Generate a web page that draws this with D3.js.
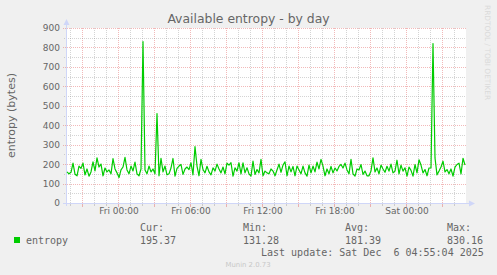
<!DOCTYPE html>
<html>
<head>
<meta charset="utf-8">
<script src="https://cdn.jsdelivr.net/npm/d3@7"></script>
<style>
  body { margin: 0; background: #f0f0f0; }
  svg { display: block; }
  text { font-family: "DejaVu Sans", sans-serif; fill: #666; }
  .mono { font-family: "DejaVu Sans Mono", monospace; white-space: pre; }
</style>
</head>
<body>
<div id="wrapper"></div>
<script>
// chart data
const title = "Available entropy - by day"
const yLabel = "entropy (bytes)"
const seriesName = "entropy"
const startTime = new Date(2025, 11, 4, 19, 45)
const stepMinutes = 10
const entropy = [
  160, 150, 158, 205, 148, 140, 190, 178, 205, 145,
  175, 138, 160, 212, 165, 232, 185, 200, 140, 180,
  160, 170, 150, 228, 175, 155, 131, 170, 185, 235,
  170, 150, 190, 165, 210, 150, 140, 175, 830, 170,
  150, 190, 160, 175, 150, 460, 140, 230, 160, 190,
  145, 150, 180, 229, 138, 178, 190, 198, 147, 175,
  185, 172, 207, 145, 290, 190, 140, 224, 172, 155,
  189, 160, 145, 181, 164, 200, 175, 155, 185, 150,
  205, 195, 207, 138, 181, 164, 207, 150, 207, 155,
  181, 150, 138, 215, 147, 172, 155, 224, 140, 164,
  155, 150, 175, 164, 140, 170, 200, 158, 195, 212,
  140, 190, 160, 188, 140, 190, 170, 150, 190, 155,
  138, 195, 155, 190, 160, 210, 175, 224, 190, 140,
  175, 150, 188, 155, 180, 165, 188, 198, 180, 205,
  170, 150, 224, 150, 138, 175, 170, 198, 147, 164,
  140, 140, 165, 232, 160, 180, 150, 195, 175, 158,
  189, 164, 200, 155, 164, 220, 150, 195, 164, 181,
  138, 185, 168, 138, 198, 155, 222, 195, 155, 172,
  140, 180, 180, 820, 232, 145, 164, 185, 215, 160,
  172, 150, 175, 138, 185, 198, 205, 150, 230, 195.37
]
const yTicks = [0, 100, 200, 300, 400, 500, 600, 700, 800, 900]
const yMinorTicks = [50, 150, 250, 350, 450, 550, 650, 750, 850]
const legendHeaders = ["Cur:", "Min:", "Avg:", "Max:"]
const legendValues = ["195.37", "131.28", "181.39", "830.16"]
const lastUpdate = "Last update: Sat Dec  6 04:55:04 2025"
const footer = "Munin 2.0.73"
const watermark = "RRDTOOL / TOBI OETIKER"

function drawChart() {
  const dimensions = {
    width: 497,
    height: 275,
    left: 66,
    right: 466,
    top: 28,
    bottom: 203,
  }

  const svg = d3.select("#wrapper")
    .append("svg")
    .attr("width", dimensions.width)
    .attr("height", dimensions.height)

  svg.append("rect")
    .attr("width", dimensions.width)
    .attr("height", dimensions.height)
    .attr("fill", "#f0f0f0")

  const xScale = d3.scaleTime()
    .domain([new Date(2025, 11, 4, 19, 40), new Date(2025, 11, 6, 5, 0)])
    .range([dimensions.left, dimensions.right])

  const yScale = d3.scaleLinear()
    .domain([0, 900])
    .range([dimensions.bottom, dimensions.top])

  const crisp = v => Math.round(v) + 0.5

  // canvas
  svg.append("rect")
    .attr("x", dimensions.left)
    .attr("y", dimensions.top)
    .attr("width", dimensions.right - dimensions.left)
    .attr("height", dimensions.bottom - dimensions.top)
    .attr("fill", "#ffffff")

  const grid = svg.append("g")
  const minorColor = "rgba(143,143,143,0.38)"
  const majorColor = "rgba(222,80,80,0.4)"

  const hours = d3.timeHour.range(xScale.domain()[0], xScale.domain()[1])
  hours.forEach(h => {
    const x = crisp(xScale(h))
    const major = h.getHours() % 3 === 0
    grid.append("line")
      .attr("x1", x).attr("x2", x)
      .attr("y1", dimensions.top).attr("y2", dimensions.bottom)
      .attr("stroke", major ? majorColor : minorColor)
      .attr("stroke-dasharray", "1,1")
    grid.append("line")
      .attr("x1", x).attr("x2", x)
      .attr("y1", dimensions.bottom + 1).attr("y2", dimensions.bottom + (major ? 4 : 3))
      .attr("stroke", major ? majorColor : minorColor)
  })

  yMinorTicks.forEach(v => {
    const y = crisp(yScale(v))
    grid.append("line")
      .attr("x1", dimensions.left - 2).attr("x2", dimensions.right)
      .attr("y1", y).attr("y2", y)
      .attr("stroke", minorColor)
      .attr("stroke-dasharray", "1,1")
  })
  yTicks.filter(v => v > 0).forEach(v => {
    const y = crisp(yScale(v))
    grid.append("line")
      .attr("x1", dimensions.left - 3).attr("x2", dimensions.right)
      .attr("y1", y).attr("y2", y)
      .attr("stroke", majorColor)
      .attr("stroke-dasharray", "1,1")
  })

  // y tick labels
  const yAxis = svg.append("g")
    .attr("transform", `translate(${dimensions.left - 6},0)`)
    .call(d3.axisLeft(yScale).tickValues(yTicks).tickSize(0).tickPadding(0))
  yAxis.select(".domain").remove()
  yAxis.selectAll("text")
    .attr("fill", "#666")
    .style("font-family", "DejaVu Sans")
    .style("font-size", "9px")

  // x tick labels
  const xAxis = svg.append("g")
    .attr("transform", `translate(0,${dimensions.bottom + 4})`)
    .call(d3.axisBottom(xScale)
      .tickValues(hours.filter(h => h.getHours() % 6 === 0))
      .tickFormat(d3.timeFormat("%a %H:%M"))
      .tickSize(0)
      .tickPadding(0))
  xAxis.select(".domain").remove()
  xAxis.selectAll("text")
    .attr("dy", "0.71em")
    .attr("transform", "translate(0.5,1)")
    .attr("fill", "#666")
    .style("font-family", "DejaVu Sans")
    .style("font-size", "9px")

  // axes with arrows
  const axisColor = "#cfd6f8"
  svg.append("line")
    .attr("x1", dimensions.left + 0.5).attr("x2", dimensions.left + 0.5)
    .attr("y1", dimensions.bottom + 3).attr("y2", dimensions.top - 5)
    .attr("stroke", axisColor)
  svg.append("path")
    .attr("d", `M${dimensions.left - 2.5},${dimensions.top - 3} L${dimensions.left + 0.5},${dimensions.top - 9} L${dimensions.left + 3.5},${dimensions.top - 3} Z`)
    .attr("fill", axisColor)
  svg.append("line")
    .attr("x1", dimensions.left - 3).attr("x2", dimensions.right + 5)
    .attr("y1", dimensions.bottom + 0.5).attr("y2", dimensions.bottom + 0.5)
    .attr("stroke", axisColor)
  svg.append("path")
    .attr("d", `M${dimensions.right + 3},${dimensions.bottom - 2.5} L${dimensions.right + 9},${dimensions.bottom + 0.5} L${dimensions.right + 3},${dimensions.bottom + 3.5} Z`)
    .attr("fill", axisColor)

  // series line
  const stepMs = stepMinutes * 60 * 1000
  const lineGenerator = d3.line()
    .x((d, i) => xScale(new Date(startTime.getTime() + i * stepMs)))
    .y(d => yScale(d))

  svg.append("path")
    .attr("d", lineGenerator(entropy))
    .attr("fill", "none")
    .attr("stroke", "#00cc00")
    .attr("stroke-width", 1.2)
    .attr("stroke-linejoin", "round")

  // titles
  svg.append("text")
    .attr("x", 248.5)
    .attr("y", 23)
    .attr("text-anchor", "middle")
    .style("font-size", "12.4px")
    .text(title)

  svg.append("text")
    .attr("transform", `translate(14.5,${(dimensions.top + dimensions.bottom) / 2}) rotate(-90)`)
    .attr("text-anchor", "middle")
    .style("font-size", "11px")
    .text(yLabel)

  svg.append("text")
    .attr("transform", "translate(485,5) rotate(90)")
    .style("fill", "#dadada")
    .style("font-size", "7.4px")
    .text(watermark)

  // legend
  svg.append("rect")
    .attr("x", 14).attr("y", 237)
    .attr("width", 6).attr("height", 6)
    .attr("fill", "#00cc00")

  svg.append("text")
    .attr("class", "mono")
    .attr("x", 26).attr("y", 244)
    .style("font-size", "10px")
    .text(seriesName)

  const columnX = [140, 243, 345, 447]
  legendHeaders.forEach((h, i) => {
    svg.append("text")
      .attr("class", "mono")
      .attr("x", columnX[i]).attr("y", 231)
      .style("font-size", "10px")
      .text(h)
    svg.append("text")
      .attr("class", "mono")
      .attr("x", columnX[i]).attr("y", 244)
      .style("font-size", "10px")
      .text(legendValues[i])
  })

  svg.append("text")
    .attr("class", "mono")
    .attr("x", 261).attr("y", 255.5)
    .style("font-size", "10px")
    .text(lastUpdate)

  svg.append("text")
    .attr("x", 248)
    .attr("y", 266.5)
    .attr("text-anchor", "middle")
    .style("fill", "#c8c8c8")
    .style("font-size", "6.9px")
    .text(footer)
}
drawChart()
</script>
</body>
</html>
